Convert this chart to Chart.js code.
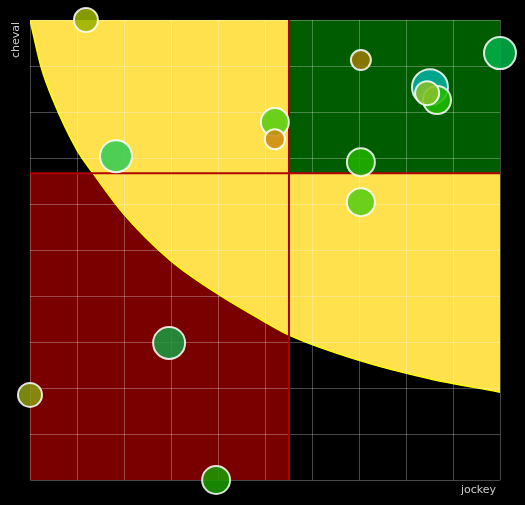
<!DOCTYPE html>
<html>
<head>
<meta charset="UTF-8">
<script src="https://cdn.jsdelivr.net/npm/chart.js"></script>
<style>
  html, body { margin: 0; padding: 0; background: #000; }
  #wrap { width: 525px; height: 505px; }
</style>
</head>
<body>
<div id="wrap"><canvas id="chart"></canvas></div>
<script>
  // Bubble data (jockey, cheval)
  const bubbleX = [1.19, 1.83, 5.21, 5.21, 7.04, 10, 8.51, 8.66, 8.45, 7.04, 7.04, 2.96, 0, 3.96];
  const bubbleY = [10, 7.04, 7.78, 7.41, 9.13, 9.28, 8.54, 8.26, 8.41, 6.91, 6.04, 2.98, 1.85, 0];
  const bubbleR = [12, 16, 14, 10, 10, 16, 18, 14, 12, 14, 14, 16, 12, 14];
  const bubbleColors = ["#9ab000", "#33cc55", "#55cc11", "#cc8a11", "#9a7a00", "#00b048",
    "#00b0a0", "#22bb00", "#88c028", "#22b000", "#55cc11", "#1a9a40", "#8a9a10", "#1a9a00"];

  // Threshold lines
  const splitX = 5.51;
  const splitY = 6.67;

  // Yellow boundary curve
  const curveX = [0, 0.23, 0.49, 1.0, 1.34, 1.98, 2.98, 3.97, 5.04, 5.51, 7.0, 8.5, 10];
  const curveY = [10, 9.0, 8.26, 7.17, 6.67, 5.8, 4.78, 4.06, 3.41, 3.15, 2.6, 2.2, 1.91];

  const pts = (xs, ys) => xs.map((x, i) => ({ x: x, y: ys[i] }));

  const overlay = {
    id: "overlay",
    afterDatasetDraw(chart, args) {
      if (args.index !== 3) return;
      const ctx = chart.ctx, xs = chart.scales.x, ys = chart.scales.y, a = chart.chartArea;
      ctx.save();
      ctx.strokeStyle = "rgba(255,255,255,0.28)";
      ctx.lineWidth = 1;
      for (let v = 0; v <= 10; v++) {
        const px = Math.round(xs.getPixelForValue(v)) + 0.5;
        const py = Math.round(ys.getPixelForValue(v)) + 0.5;
        ctx.beginPath(); ctx.moveTo(px, a.top); ctx.lineTo(px, a.bottom); ctx.stroke();
        ctx.beginPath(); ctx.moveTo(a.left, py); ctx.lineTo(a.right, py); ctx.stroke();
      }
      ctx.strokeStyle = "#b00000";
      ctx.lineWidth = 2;
      const sx = xs.getPixelForValue(splitX), sy = ys.getPixelForValue(splitY);
      ctx.beginPath(); ctx.moveTo(sx, a.top); ctx.lineTo(sx, a.bottom); ctx.stroke();
      ctx.beginPath(); ctx.moveTo(a.left, sy); ctx.lineTo(a.right, sy); ctx.stroke();
      ctx.restore();
    },
    afterDraw(chart) {
      const ctx = chart.ctx, a = chart.chartArea;
      ctx.save();
      ctx.fillStyle = "#cccccc";
      ctx.font = "11px 'DejaVu Sans', sans-serif";
      ctx.textAlign = "right";
      ctx.textBaseline = "middle";
      ctx.fillText("jockey", a.right - 4, a.bottom + 10);
      ctx.translate(a.left - 14, a.top + 2);
      ctx.rotate(-Math.PI / 2);
      ctx.fillText("cheval", 0, 0);
      ctx.restore();
    }
  };

  new Chart(document.getElementById("chart"), {
    data: {
      datasets: [
        {
          type: "bubble",
          order: 0,
          clip: false,
          data: bubbleX.map((x, i) => ({ x: x, y: bubbleY[i], r: bubbleR[i] })),
          backgroundColor: bubbleColors.map(c => c + "dd"),
          borderColor: "rgba(255,255,255,0.85)",
          borderWidth: 2
        },
        {
          type: "line", order: 3,
          data: pts([0, splitX], [splitY, splitY]),
          fill: "start", backgroundColor: "#7a0000", borderWidth: 0, pointRadius: 0
        },
        {
          type: "line", order: 2,
          data: pts(curveX, curveY),
          fill: "end", backgroundColor: "#ffe14d", borderColor: "#ffff00", borderWidth: 1.5,
          pointRadius: 0, cubicInterpolationMode: "monotone"
        },
        {
          type: "line", order: 1,
          data: pts([splitX, 10], [splitY, splitY]),
          fill: "end", backgroundColor: "#005c00", borderWidth: 0, pointRadius: 0
        }
      ]
    },
    options: {
      responsive: true,
      maintainAspectRatio: false,
      animation: false,
      layout: { padding: { left: 22, right: 25, top: 20, bottom: 17 } },
      plugins: { legend: { display: false }, tooltip: { enabled: false } },
      scales: {
        x: {
          type: "linear", min: 0, max: 10,
          ticks: { display: false, stepSize: 1 },
          grid: { display: false },
          border: { display: false }
        },
        y: {
          type: "linear", min: 0, max: 10,
          ticks: { display: false, stepSize: 1 },
          grid: { display: false },
          border: { display: false }
        }
      }
    },
    plugins: [overlay]
  });
</script>
</body>
</html>
